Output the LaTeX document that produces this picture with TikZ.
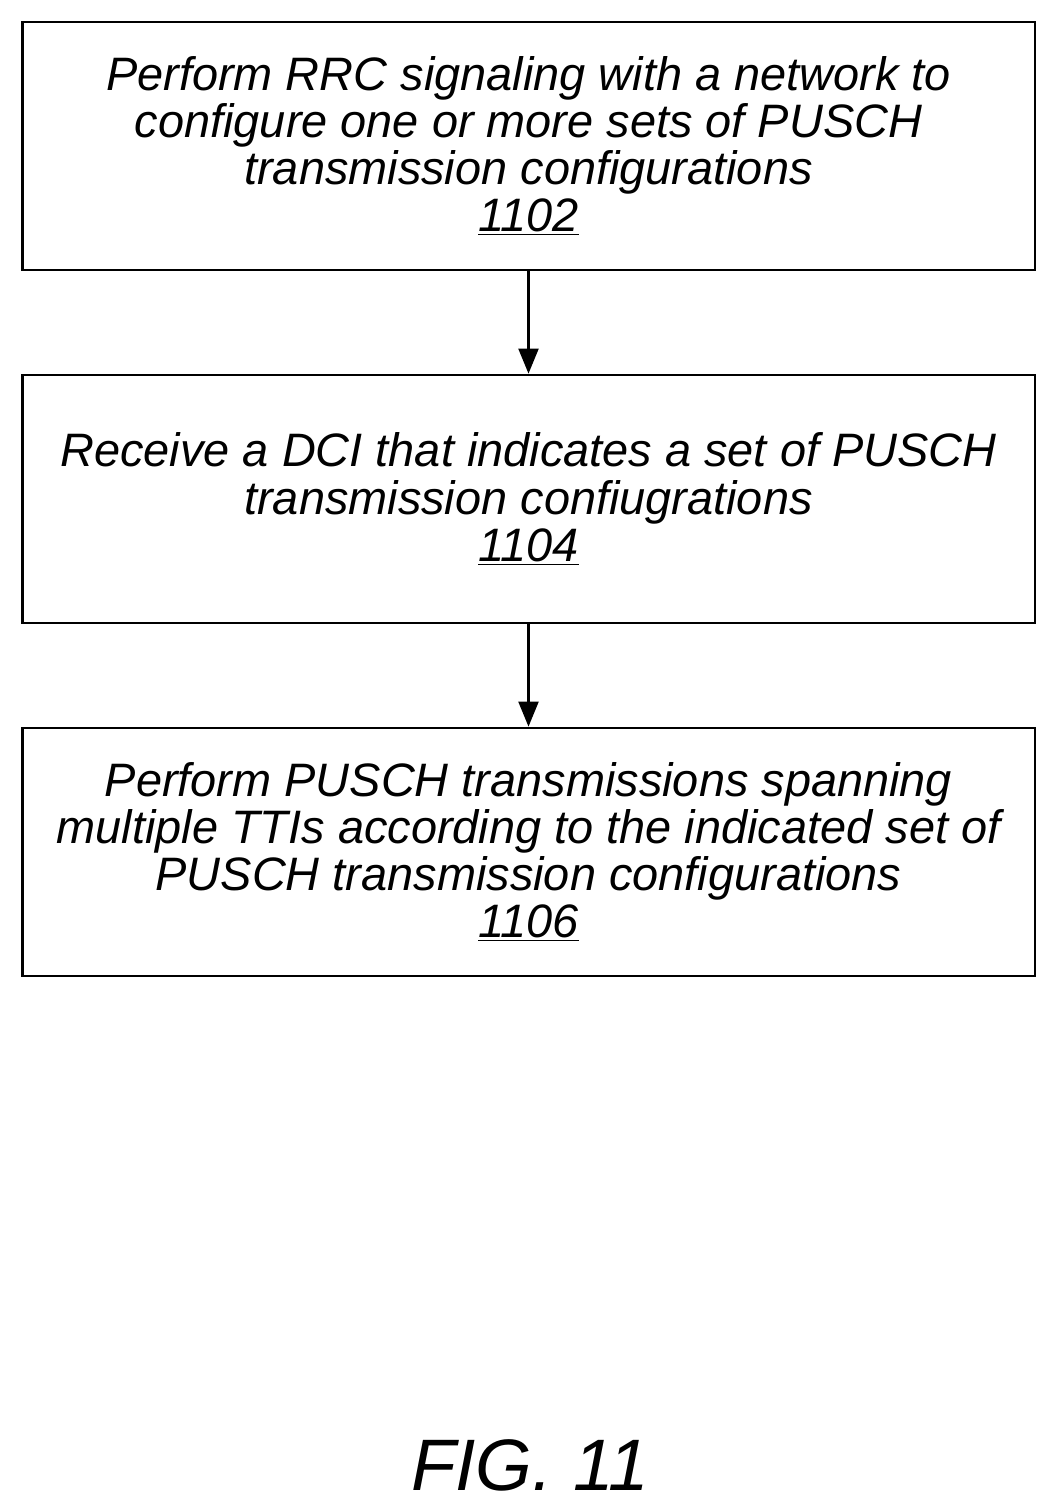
\documentclass[tikz,border=0pt]{standalone}
\usepackage{fontspec}
\setmainfont{Liberation Sans}
\usetikzlibrary{arrows.meta}

\tikzset{
    stepbox/.style={draw, line width=1.6pt, minimum width=20.26cm, minimum height=4.96cm,
        align=center, font=\fontsize{26.7}{26.8}\selectfont\itshape, inner sep=0pt},
    flow/.style={-{Triangle[length=0.5cm,width=0.4cm]}, line width=1.2pt}
}

\begin{document}
\begin{tikzpicture}[x=0.02cm,y=-0.02cm]

    % Page frame
    \useasboundingbox (0,0) rectangle (1058,1511);

    % Steps
    \node[stepbox] (s1102) at (528.5,146) {Perform RRC signaling with a network to\\configure one or more sets of PUSCH\\transmission configurations\\\underline{1102}};
    \node[stepbox] (s1104) at (528.5,499) {Receive a DCI that indicates a set of PUSCH\\transmission confiugrations\\\underline{1104}};
    \node[stepbox] (s1106) at (528.5,852) {Perform PUSCH transmissions spanning\\multiple TTIs according to the indicated set of\\PUSCH transmission configurations\\\underline{1106}};

    % Arrows
    \draw[flow] (s1102) -- (s1104);
    \draw[flow] (s1104) -- (s1106);

    % Caption
    \node[font=\fontsize{41.5}{45}\selectfont\itshape] (fig) at (530,1465) {FIG. 11};
\end{tikzpicture}
\end{document}
